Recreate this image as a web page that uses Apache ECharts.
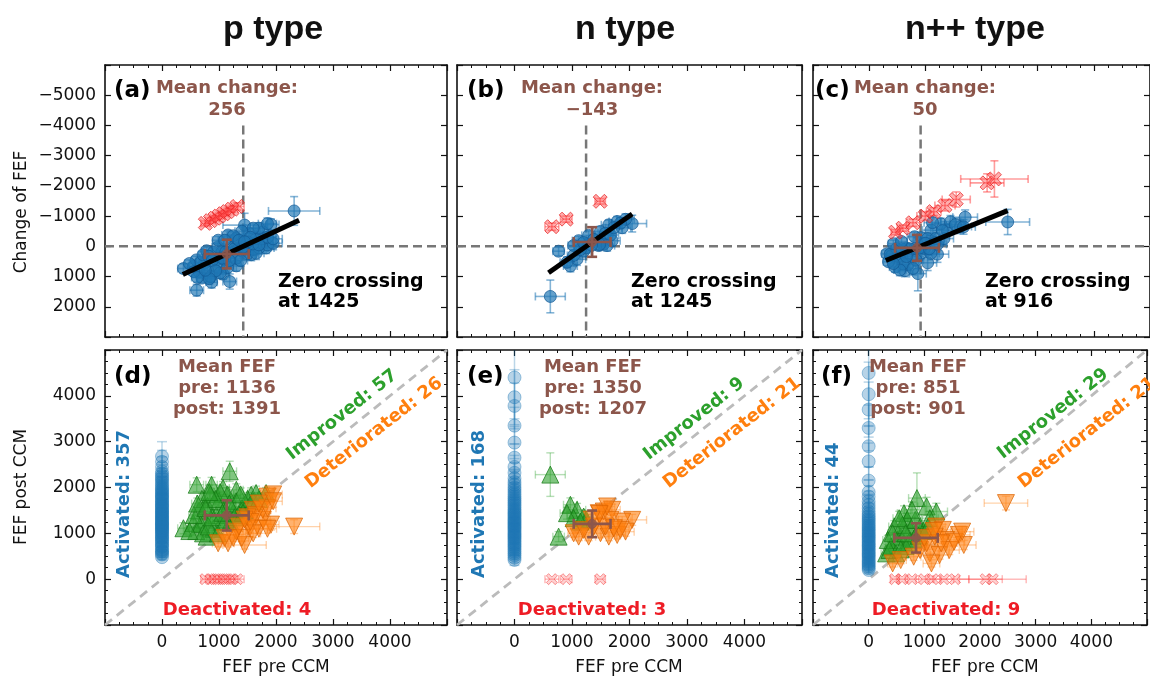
<!DOCTYPE html>
<html>
<head>
<meta charset="utf-8">
<script src="https://cdn.jsdelivr.net/npm/echarts@6/dist/echarts.min.js"></script>
<style>
  html, body { margin: 0; padding: 0; background: #fff; }
  #chart { width: 1150px; height: 677px; }
</style>
</head>
<body>
<div id="chart"></div>
<script>
// ---------- data ----------
const columnTitles = ['p type', 'n type', 'n++ type'];
const panelLetters = ['(a)', '(b)', '(c)', '(d)', '(e)', '(f)'];
const improvedCounts = [57, 9, 29];
const deterioratedCounts = [26, 21, 21];
const activatedCounts = [357, 168, 44];
const deactivatedCounts = [4, 3, 9];
const zeroCrossings = [1425, 1245, 916];
const meanChangeTxt = ['256', '\u2212143', '50'];

// mean point: [pre, value, errPre, errValue]
const meanChange = [[1136, 256, 385, 475], [1350, -143, 320, 490], [851, 50, 390, 430]];
const meanFef = [[1136, 1391, 385, 330], [1350, 1207, 320, 290], [851, 901, 390, 320]];

// fit lines in change panels: two end points [pre, change]
const fitP = [[365, 935], [2405, -864]];
const fitN = [[592, 872], [2047, -1071]];
const fitF = [[296, 470], [2465, -1180]];

// tips active before and after: [pre, post, errPre, errPost]
const improvedP = [
  [376, 1111, 100, 120], [550, 1221, 90, 100], [609, 2061, 120, 150], [870, 2060, 100, 160], [1071, 1989, 110, 140],
  [1304, 1950, 120, 130], [1565, 1842, 130, 150], [1826, 1879, 140, 120], [1188, 2353, 120, 220], [783, 928, 90, 80],
  [650, 1500, 80, 110], [700, 1750, 90, 120], [750, 1300, 100, 90], [800, 1600, 80, 130], [850, 1850, 100, 140],
  [900, 1100, 90, 80], [950, 1400, 110, 100], [1000, 1700, 90, 130], [1050, 1250, 100, 90], [1100, 1550, 120, 110],
  [1150, 1850, 110, 150], [1200, 1250, 100, 80], [1250, 1450, 120, 100], [1300, 1700, 110, 120], [1350, 1400, 130, 100],
  [1400, 1550, 120, 110], [1450, 1500, 140, 100], [1500, 1750, 130, 140], [600, 1050, 80, 90], [680, 1200, 90, 100],
  [720, 1000, 80, 70], [820, 1150, 90, 90], [880, 1350, 100, 100], [980, 1000, 100, 80], [1020, 1900, 110, 150],
  [1120, 1300, 100, 90], [1380, 1850, 120, 140], [1600, 1700, 150, 120], [1700, 1750, 160, 130], [480, 1050, 80, 90],
  [560, 1400, 90, 110], [620, 1650, 100, 120], [940, 1750, 100, 130], [1180, 1650, 110, 120], [1270, 1350, 120, 100],
  [830, 1900, 90, 150], [1060, 1450, 100, 110], [760, 1550, 90, 120], [1420, 1450, 120, 100], [1650, 1880, 140, 150]
];
const deterioratedP = [
  [2318, 1147, 450, 150], [1850, 1800, 150, 130], [1950, 1850, 160, 140], [1913, 1191, 140, 120], [1768, 1294, 130, 110],
  [1536, 1111, 120, 100], [1594, 1513, 130, 120], [985, 783, 100, 80], [1159, 783, 110, 80], [1449, 746, 380, 90],
  [1304, 1037, 120, 90], [1768, 1513, 140, 120], [1650, 1400, 130, 110], [1700, 1100, 150, 100], [1850, 1550, 150, 120],
  [1500, 1350, 120, 110], [1400, 900, 120, 80], [1250, 900, 110, 80], [1600, 1000, 130, 90], [1850, 1100, 160, 100],
  [1950, 1700, 160, 130], [1100, 900, 100, 80], [1700, 1650, 140, 130], [1550, 1250, 130, 100], [1350, 1150, 120, 100],
  [1450, 1300, 120, 100]
];
const improvedN = [
  [623, 2281, 260, 475], [972, 1623, 120, 150], [1088, 1513, 150, 140], [1029, 1331, 110, 120], [1203, 1366, 130, 120],
  [767, 928, 100, 110], [1250, 1300, 120, 110], [913, 1440, 120, 130], [1146, 1257, 110, 100]
];
const deterioratedN = [
  [1552, 1476, 130, 120], [1698, 1513, 140, 120], [1465, 1440, 120, 110], [2047, 1294, 250, 120], [1873, 1257, 150, 110],
  [1116, 928, 110, 90], [1290, 928, 120, 90], [1495, 1002, 130, 100], [1640, 928, 130, 90], [1786, 965, 140, 90],
  [1931, 1037, 150, 100], [1029, 1002, 100, 90], [1378, 1147, 120, 100], [1582, 1147, 130, 100], [1203, 1075, 110, 100],
  [1669, 1294, 140, 110], [1611, 1586, 130, 130], [1480, 1420, 120, 110], [1843, 1075, 150, 100], [1340, 1300, 120, 110],
  [1727, 1111, 140, 100]
];
const improvedF = [
  [867, 1769, 150, 550], [1041, 1586, 160, 200], [1216, 1476, 200, 180], [635, 1440, 120, 160], [460, 1147, 100, 130],
  [314, 563, 90, 90], [401, 709, 90, 100], [576, 928, 110, 110], [750, 1075, 120, 120], [809, 880, 120, 100],
  [692, 1294, 130, 140], [518, 855, 100, 100], [924, 1147, 140, 130], [663, 720, 110, 90], [344, 855, 90, 100],
  [984, 1050, 150, 120], [605, 1184, 120, 130], [489, 563, 100, 80], [837, 1294, 130, 150], [1099, 1331, 150, 150],
  [780, 1513, 130, 170], [547, 1331, 110, 150], [722, 800, 110, 100], [431, 1002, 90, 120], [896, 950, 130, 110],
  [663, 1002, 110, 120], [373, 636, 90, 90], [1070, 1150, 160, 130], [576, 650, 100, 90]
];
const deterioratedF = [
  [2466, 1660, 390, 150], [1622, 965, 200, 120], [1709, 746, 220, 100], [1216, 1147, 160, 130], [1332, 1075, 170, 120],
  [1390, 855, 180, 100], [1099, 563, 150, 90], [924, 636, 140, 90], [1274, 526, 160, 90], [1041, 783, 150, 100],
  [431, 344, 90, 80], [576, 417, 100, 80], [1186, 928, 160, 110], [1448, 636, 180, 100], [1000, 900, 150, 110],
  [1535, 818, 190, 100], [1128, 344, 150, 80], [809, 490, 130, 80], [1303, 783, 170, 100], [1170, 1050, 160, 120],
  [1680, 1037, 210, 120]
];

// activated tips (no emission before): [post, errPost]
const activatedP = [
  [480, 60], [560, 80], [620, 70], [700, 90], [760, 60], [820, 100], [880, 80], [930, 90], [990, 70], [1040, 110],
  [1090, 90], [1130, 80], [1180, 100], [1220, 120], [1270, 90], [1320, 110], [1360, 100], [1410, 130], [1460, 90],
  [1500, 120], [1560, 110], [1610, 140], [1660, 100], [1720, 150], [1780, 120], [1830, 130], [1890, 150], [1950, 110],
  [2020, 160], [2100, 140], [2180, 180], [2260, 160], [2350, 200], [2450, 220], [2560, 250], [2680, 320],
  [540, 70], [600, 90], [650, 70], [720, 80], [790, 90], [850, 70], [905, 100], [960, 80], [1015, 90], [1065, 100],
  [1110, 80], [1160, 110], [1200, 90], [1245, 100], [1295, 120], [1340, 90], [1385, 110], [1430, 100], [1480, 130],
  [1530, 110], [1585, 120], [1635, 100], [1690, 130], [1750, 120], [1805, 140], [1860, 130], [1920, 150], [1985, 140],
  [2060, 170], [2140, 160], [2220, 190], [2300, 200]
];
const activatedN = [
  [420, 120], [520, 100], [600, 90], [680, 110], [750, 90], [820, 100], [890, 120], [950, 90], [1010, 100], [1080, 110],
  [1140, 90], [1200, 120], [1260, 100], [1320, 110], [1390, 130], [1450, 100], [1520, 120], [1600, 140], [1680, 110],
  [1760, 150], [1850, 130], [1950, 160], [2060, 170], [2200, 190], [2450, 250], [2650, 300], [2980, 350], [3350, 400],
  [3780, 500], [3970, 600], [4400, 900],
  [470, 110], [560, 100], [640, 120], [715, 90], [785, 110], [855, 100], [920, 120], [980, 100], [1045, 110], [1110, 100],
  [1170, 120], [1230, 110], [1290, 100], [1355, 120], [1420, 110], [1485, 130], [1560, 120], [1640, 140], [1720, 130],
  [1800, 150], [1900, 160], [2000, 170], [2120, 180], [2320, 220]
];
const activatedF = [
  [200, 80], [280, 90], [350, 100], [420, 80], [500, 110], [560, 90], [630, 100], [700, 120], [760, 90], [830, 110],
  [900, 100], [960, 120], [1030, 110], [1100, 130], [1170, 120], [1250, 140], [1330, 150], [1420, 160], [1550, 200],
  [1700, 220], [1900, 260], [2150, 300], [2570, 400], [2900, 450], [3300, 500], [3700, 600], [4035, 700], [4500, 1000],
  [240, 90], [315, 100], [385, 90], [460, 100], [530, 110], [595, 100], [665, 110], [730, 100], [795, 120], [865, 110],
  [930, 120], [995, 110], [1065, 130], [1135, 120], [1210, 140], [1290, 150], [1375, 160], [1480, 180], [1620, 210],
  [1800, 240]
];

// deactivated tips (no emission after): [pre, errPre]
const deactivatedP = [[760, 80], [850, 90], [930, 80], [1000, 100], [1080, 90], [1150, 110], [1230, 100], [1320, 120]];
const deactivatedN = [[650, 120], [900, 100], [1490, 90]];
const deactivatedF = [[470, 80], [600, 100], [780, 120], [1000, 150], [1150, 130], [1350, 180], [1550, 250], [2100, 300], [2230, 600]];

const groups = [
  { imp: improvedP, det: deterioratedP, act: activatedP, deact: deactivatedP, fit: fitP },
  { imp: improvedN, det: deterioratedN, act: activatedN, deact: deactivatedN, fit: fitN },
  { imp: improvedF, det: deterioratedF, act: activatedF, deact: deactivatedF, fit: fitF }
];

// ---------- styling ----------
const FONT = '"DejaVu Sans"';
const BLUE = '#1f77b4', GREEN = '#2ca02c', ORANGE = '#ff7f0e', RED = '#ee1c25', BROWN = '#8c564b';
const X_PATH = 'path://M2,0L5,3L8,0L10,2L7,5L10,8L8,10L5,7L2,10L0,8L3,5L0,2Z';

const lefts = [105, 457, 813];
const widths = [342, 345, 345];
const rowTop = [65, 350];
const rowH = [272, 275];

const grids = [];
const xAxes = [];
const yAxes = [];
const series = [];
const graphics = [];

function fmt(min, max) {
  return v => (v === min || v === max) ? '' : (v < 0 ? '\u2212' + Math.abs(v) : String(v));
}

function axisCommon(show, min, max, minor) {
  return {
    type: 'value', min, max, interval: 1000,
    axisLine: { show: true, onZero: false, lineStyle: { color: '#111', width: 1.6 } },
    axisTick: { show: true, inside: true, length: 6, lineStyle: { color: '#111', width: 1.2 } },
    minorTick: { show: minor, splitNumber: 4, length: 3, lineStyle: { color: '#111', width: 1 } },
    splitLine: { show: false },
    minorSplitLine: { show: false },
    axisLabel: { show, formatter: fmt(min, max), fontSize: 17, fontFamily: FONT, color: '#111', margin: 9 }
  };
}

for (let gi = 0; gi < 6; gi++) {
  const row = gi < 3 ? 0 : 1, col = gi % 3;
  grids.push({ left: lefts[col], top: rowTop[row], width: widths[col], height: rowH[row], containLabel: false });
  xAxes.push(Object.assign(axisCommon(row === 1, -1000, 5000, true), { gridIndex: gi, position: 'bottom' }));
  xAxes.push(Object.assign(axisCommon(false, -1000, 5000, true), { gridIndex: gi, position: 'top' }));
  const ymin = row === 0 ? -6000 : -1000, ymax = row === 0 ? 3000 : 5000;
  yAxes.push(Object.assign(axisCommon(col === 0, ymin, ymax, row === 1), { gridIndex: gi, position: 'left', inverse: row === 0 }));
  yAxes.push(Object.assign(axisCommon(false, ymin, ymax, row === 1), { gridIndex: gi, position: 'right', inverse: row === 0 }));
}

function errorBars(color, width, cap) {
  return function (params, api) {
    const x = api.value(0), y = api.value(1), ex = api.value(2), ey = api.value(3);
    const st = { stroke: color, lineWidth: width };
    const kids = [];
    const seg = (x1, y1, x2, y2) => kids.push({ type: 'line', shape: { x1, y1, x2, y2 }, style: st });
    if (ex > 0) {
      const a = api.coord([x - ex, y]), b = api.coord([x + ex, y]);
      seg(a[0], a[1], b[0], b[1]);
      seg(a[0], a[1] - cap, a[0], a[1] + cap);
      seg(b[0], b[1] - cap, b[0], b[1] + cap);
    }
    if (ey > 0) {
      const a = api.coord([x, y - ey]), b = api.coord([x, y + ey]);
      seg(a[0], a[1], b[0], b[1]);
      seg(a[0] - cap, a[1], a[0] + cap, a[1]);
      seg(b[0] - cap, b[1], b[0] + cap, b[1]);
    }
    return { type: 'group', children: kids };
  };
}

function addLine(gi, data, color, width, type, z) {
  series.push({
    type: 'line', xAxisIndex: 2 * gi, yAxisIndex: 2 * gi, data, symbol: 'none', silent: true,
    lineStyle: { color, width, type }, z, clip: true
  });
}
function addErr(gi, data, color, width, cap, z) {
  series.push({
    type: 'custom', xAxisIndex: 2 * gi, yAxisIndex: 2 * gi, data, encode: { x: 0, y: 1 },
    renderItem: errorBars(color, width, cap), clip: true, silent: true, z
  });
}
function addPts(gi, data, symbol, size, color, border, rotate, z) {
  series.push({
    type: 'scatter', xAxisIndex: 2 * gi, yAxisIndex: 2 * gi, data, symbol, symbolSize: size,
    symbolRotate: rotate, itemStyle: { color, borderColor: border, borderWidth: 1 }, silent: true, z
  });
}

groups.forEach((g, k) => {
  // change panels
  const both = g.imp.concat(g.det).map(d => [d[0], d[1] - d[0], d[2], Math.hypot(d[2], d[3])]);
  const lost = g.deact.map(d => [d[0], -d[0], d[1], d[1]]);
  addLine(k, [[-1000, 0], [5000, 0]], '#777', 2.5, [9, 5], 2);
  addLine(k, [[zeroCrossings[k], -4000], [zeroCrossings[k], 3000]], '#777', 2.5, [9, 5], 2);
  addErr(k, both, 'rgba(31,119,180,0.55)', 1.6, 4, 3);
  addErr(k, lost, 'rgba(255,60,60,0.5)', 1.6, 4, 3);
  addPts(k, both, 'circle', 12, 'rgba(31,119,180,0.85)', 'rgba(20,90,150,0.9)', 0, 4);
  addPts(k, lost, X_PATH, 14, 'rgba(255,70,70,0.55)', 'rgba(230,30,30,0.9)', 0, 5);
  addLine(k, g.fit, '#000', 5, 'solid', 6);
  addErr(k, [meanChange[k]], BROWN, 2.6, 5, 7);
  addPts(k, [meanChange[k]], 'circle', 9, BROWN, BROWN, 0, 8);

  // FEF panels
  const b = k + 3;
  const act = g.act.map(d => [0, d[0], 0, d[1]]);
  const dead = g.deact.map(d => [d[0], 0, d[1], 0]);
  addLine(b, [[-1000, -1000], [5000, 5000]], '#bbb', 2.8, [9, 6], 2);
  addErr(b, act, 'rgba(31,119,180,0.3)', 1.5, 5, 3);
  addErr(b, dead, 'rgba(255,60,60,0.35)', 1.5, 4, 3);
  addErr(b, g.imp, 'rgba(44,160,44,0.35)', 1.4, 4, 3);
  addErr(b, g.det, 'rgba(255,127,14,0.35)', 1.4, 4, 3);
  addPts(b, act, 'circle', 13, 'rgba(31,119,180,0.4)', 'rgba(31,119,180,0.5)', 0, 4);
  addPts(b, dead, X_PATH, 11, 'rgba(255,90,90,0.35)', 'rgba(240,40,40,0.6)', 0, 4);
  addPts(b, g.imp, 'triangle', 17, 'rgba(44,160,44,0.75)', 'rgba(20,120,20,0.9)', 0, 5);
  addPts(b, g.det, 'triangle', 17, 'rgba(255,127,14,0.75)', 'rgba(220,100,0,0.9)', 180, 5);
  addErr(b, [meanFef[k]], BROWN, 2.6, 5, 7);
  addPts(b, [meanFef[k]], 'circle', 9, BROWN, BROWN, 0, 8);
});

// ---------- texts ----------
function txt(text, x, y, font, fill, align, rotation) {
  graphics.push({
    type: 'text', x, y, rotation: rotation || 0, z: 100, silent: true,
    style: { text, font, fill, textAlign: align || 'center', textVerticalAlign: 'middle' }
  });
}
const B18 = 'bold 18px ' + FONT;
const B19 = 'bold 19px ' + FONT;
const titleX = [273, 625, 975];
columnTitles.forEach((t, i) => txt(t, titleX[i], 30, 'bold 34px "Liberation Sans"', '#111'));

const letterX = [114, 467, 815, 114, 467, 821];
panelLetters.forEach((t, i) => txt(t, letterX[i], i < 3 ? 91 : 377, 'bold 23px ' + FONT, '#000', 'left'));

const meanChX = [227, 592, 925];
const meanFefX = [227, 593, 918];
const zeroTxtX = [278, 631, 985];
const actX = [124, 479, 833];
const deadX = [237, 592, 946];
const impC = [[342, 415], [694, 419], [1053, 414]];
const detC = [[374, 433], [732, 433], [1087, 433]];
const ang = 38 * Math.PI / 180;
for (let k = 0; k < 3; k++) {
  txt('Mean change:', meanChX[k], 88, B18, BROWN);
  txt(meanChangeTxt[k], meanChX[k], 110, B18, BROWN);
  txt('Zero crossing', zeroTxtX[k], 282, B19, '#000', 'left');
  txt('at ' + zeroCrossings[k], zeroTxtX[k], 302, B19, '#000', 'left');
  txt('Mean FEF', meanFefX[k], 367, B18, BROWN);
  txt('pre: ' + meanFef[k][0], meanFefX[k], 388, B18, BROWN);
  txt('post: ' + meanFef[k][1], meanFefX[k], 409, B18, BROWN);
  txt('Activated: ' + activatedCounts[k], actX[k], 578, B18, BLUE, 'left', Math.PI / 2);
  txt('Deactivated: ' + deactivatedCounts[k], deadX[k], 610, B18, RED);
  txt('Improved: ' + improvedCounts[k], impC[k][0], impC[k][1], B18, GREEN, 'center', ang);
  txt('Deteriorated: ' + deterioratedCounts[k], detC[k][0], detC[k][1], B18, ORANGE, 'center', ang);
}
const N17 = '17px ' + FONT;
txt('Change of FEF', 22, 212, N17, '#111', 'center', Math.PI / 2);
txt('FEF post CCM', 22, 487, N17, '#111', 'center', Math.PI / 2);
[276, 629, 985].forEach(x => txt('FEF pre CCM', x, 668, N17, '#111'));

const chart = echarts.init(document.getElementById('chart'), null, { renderer: 'canvas' });
chart.setOption({
  animation: false,
  backgroundColor: '#fff',
  grid: grids,
  xAxis: xAxes,
  yAxis: yAxes,
  series,
  graphic: graphics
});
</script>
</body>
</html>
